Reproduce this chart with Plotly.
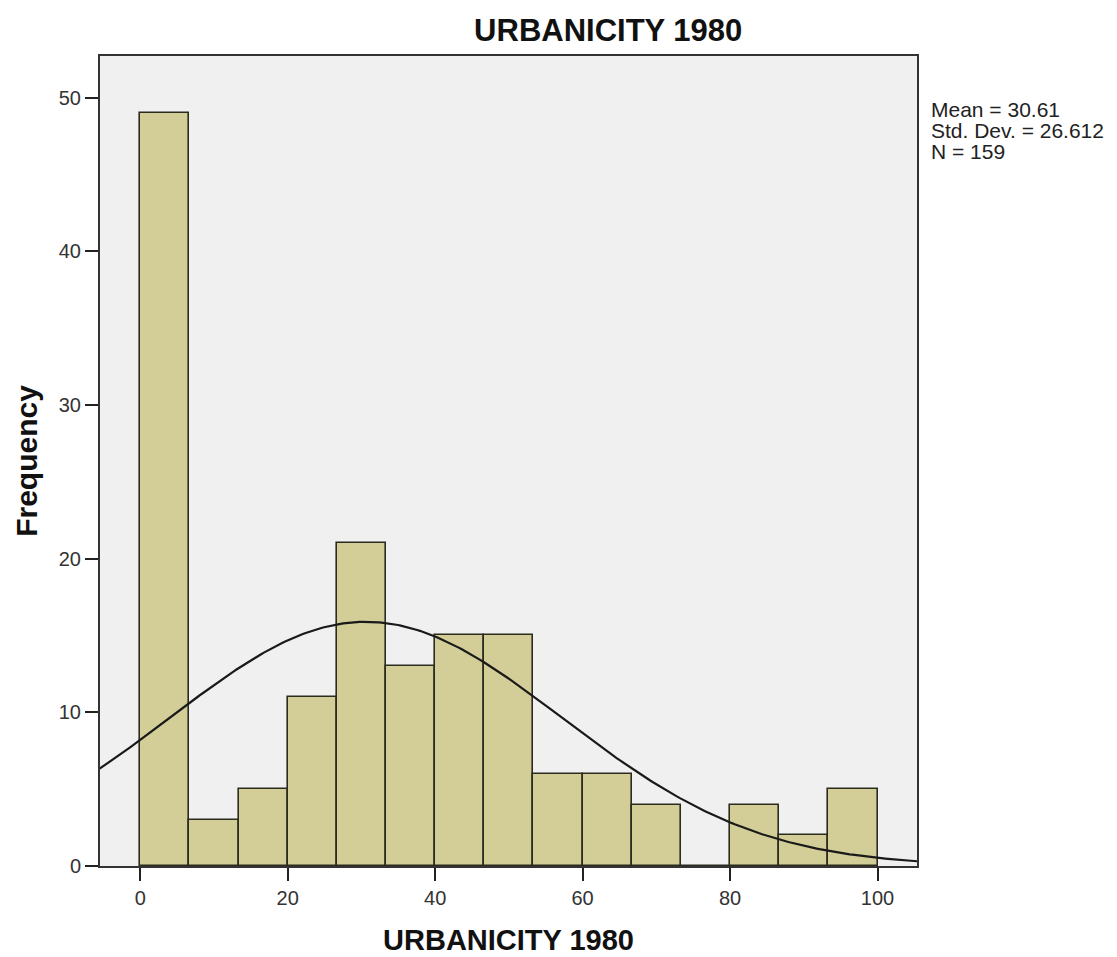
import numpy as np
import plotly.graph_objects as go

# Histogram bins (lower edges) and counts for URBANICITY 1980
bin_width = 100 / 15
bin_starts = [i * bin_width for i in range(15)]
counts = [49, 3, 5, 11, 21, 13, 15, 15, 6, 6, 4, 0, 4, 2, 5]

# Summary statistics shown beside the chart
mean_val = 30.61
std_val = 26.612
n_val = 159
stat_lines = [f"Mean = {mean_val}", f"Std. Dev. = {std_val}", f"N = {n_val}"]

x_ticks = [0, 20, 40, 60, 80, 100]
y_ticks = [0, 10, 20, 30, 40, 50]

centers = [s + bin_width / 2 for s in bin_starts]

fig = go.Figure()
fig.add_trace(go.Bar(
    x=centers, y=counts, width=bin_width,
    marker=dict(color="#D3CE98", line=dict(color="#2b2b1e", width=1.6)),
    hoverinfo="x+y",
))

# Normal curve scaled to the histogram's counts
xs = np.linspace(-5.5, 105.5, 300)
ys = n_val * bin_width / (std_val * np.sqrt(2 * np.pi)) * np.exp(-0.5 * ((xs - mean_val) / std_val) ** 2)
fig.add_trace(go.Scatter(x=xs, y=ys, mode="lines", line=dict(color="#1a1a1a", width=2.2)))

font_family = "Arial, Liberation Sans, sans-serif"
fig.update_layout(
    width=1117, height=957,
    margin=dict(l=100, r=200, t=56, b=91),
    paper_bgcolor="white", plot_bgcolor="#F0F0F0",
    showlegend=False, bargap=0,
    font=dict(family=font_family, color="#222"),
    title=dict(text="<b>URBANICITY 1980</b>", x=0.5445, xanchor="center", y=0.969, yanchor="middle",
               font=dict(size=31, color="#111")),
)
fig.update_xaxes(
    range=[-5.45, 105.35], tickvals=x_ticks, ticks="outside", ticklen=13, tickcolor="#222", tickwidth=1.5,
    showline=True, linecolor="#333", linewidth=2, mirror=True, showgrid=False, zeroline=False,
    tickfont=dict(size=20, color="#333"), automargin=False,
    title=dict(text="<b>URBANICITY 1980</b>", font=dict(size=29, color="#111"), standoff=22),
)
fig.update_yaxes(
    range=[0, 52.7], tickvals=y_ticks, ticks="outside", ticklen=13, tickcolor="#222", tickwidth=1.5,
    showline=True, linecolor="#333", linewidth=2, mirror=True, showgrid=False, zeroline=False,
    tickfont=dict(size=20, color="#333"), automargin=False,
    title=dict(text="<b>Frequency</b>", font=dict(size=30, color="#111"), standoff=12),
)

# Statistics box, one line per annotation
plot_top, plot_bottom, plot_left, plot_w = 56, 866, 100, 817
for i, line in enumerate(stat_lines):
    py = 110 + 21 * i
    fig.add_annotation(
        xref="paper", yref="paper", x=(929 - plot_left) / plot_w, y=(plot_bottom - py) / (plot_bottom - plot_top),
        xanchor="left", yanchor="middle", text=line,
        showarrow=False, align="left", font=dict(size=21, color="#222"),
    )

fig.write_html("out.html")
